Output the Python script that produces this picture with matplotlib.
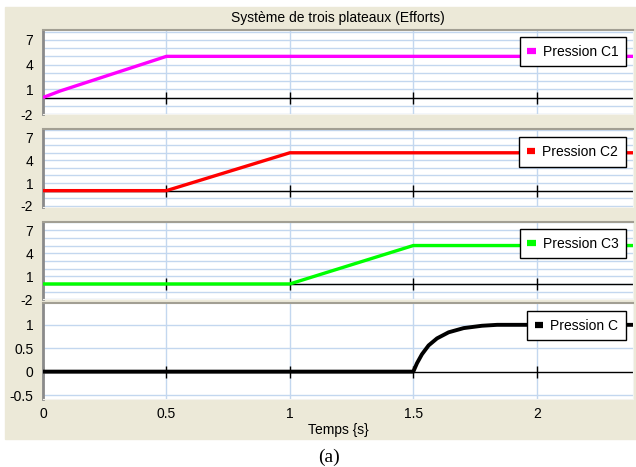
"""Systeme de trois plateaux (Efforts): pressures C1, C2, C3 and C over time."""
import matplotlib

matplotlib.use("Agg")
import matplotlib.pyplot as plt
from matplotlib.lines import Line2D
from matplotlib.patches import Rectangle

plt.rcParams["font.family"] = ["Liberation Sans", "DejaVu Sans"]

# values
t_c1 = [0, 0.07, 0.5, 2.39]
p_c1 = [0, 0.8, 5, 5]
t_c2 = [0, 0.5, 1.0, 2.39]
p_c2 = [0, 0, 5, 5]
t_c3 = [0, 1.0, 1.5, 2.39]
p_c3 = [0, 0, 5, 5]
t_c = [0, 1.5, 1.515, 1.535, 1.562, 1.596, 1.643, 1.704, 1.778, 1.84,
       1.95, 2.39]
p_c = [0, 0, 0.18, 0.37, 0.56, 0.71, 0.84, 0.93, 0.98, 1.0, 1.0, 1.0]

x_ticks = [0, 0.5, 1, 1.5, 2]
x_labels = ["0", "0.5", "1", "1.5", "2"]
y_ticks_p = [-2, 1, 4, 7]
y_grid_p = list(range(-2, 9))
y_ticks_c = [-0.5, 0, 0.5, 1]
y_grid_c = [-0.5, 0.5, 1.0, 1.5]

names = ["Pression C1", "Pression C2", "Pression C3", "Pression C"]
colors = ["#FF00FF", "#FF0000", "#00FF00", "#000000"]

BEIGE = "#ECE9D8"
GRID = "#C3D7EF"
W, H = 636, 467

fig = plt.figure(figsize=(W / 100, H / 100), dpi=100)
fig.patches.append(Rectangle((5 / W, 1 - 439 / H), (W - 5) / W, 432 / H,
                             transform=fig.transFigure, color=BEIGE,
                             zorder=-10))

# (top, bottom) in pixels, ylim, legend top in axes fraction
panels = [
    ((30, 114), (-2.0, 8.2), 0.915),
    ((129.3, 207.3), (-2.2, 8.1), 0.895),
    ((221.7, 299.3), (-2.0, 8.1), 0.905),
    ((303.3, 399), (-0.585, 1.46), 0.92),
]
series = [(t_c1, p_c1), (t_c2, p_c2), (t_c3, p_c3), (t_c, p_c)]

x0, x1 = 43, 633
for i, ((top, bot), ylim, leg_y) in enumerate(panels):
    ax = fig.add_axes([x0 / W, 1 - bot / H, (x1 - x0) / W, (bot - top) / H])
    ax.set_facecolor("white")
    ax.set_xlim(0, 2.39)
    ax.set_ylim(*ylim)

    grid_y = y_grid_c if i == 3 else y_grid_p
    for g in grid_y:
        ax.axhline(g, color=GRID, lw=1, zorder=1)
    for g in x_ticks[1:]:
        ax.axvline(g, color=GRID, lw=1, zorder=1)

    ax.axhline(0, color="black", lw=1, zorder=2)
    ax.plot(x_ticks, [0] * len(x_ticks), ls="", marker="|", ms=8, mew=1,
            color="black", zorder=2)

    t, p = series[i]
    ax.plot(t, p, color=colors[i], lw=2.8 if i == 3 else 2.4, zorder=3,
            solid_capstyle="butt", solid_joinstyle="round")

    if i == 3:
        ax.set_yticks(y_ticks_c, ["-0.5", "0", "0.5", "1"])
        ax.set_xticks(x_ticks, x_labels)
        ax.set_xlabel("Temps {s}", fontsize=10, labelpad=1)
    else:
        ax.set_yticks(y_ticks_p, [str(v) for v in y_ticks_p])
        ax.set_xticks(x_ticks, [])
    ax.tick_params(length=0, labelsize=10, pad=7)
    ax.tick_params(axis="x", pad=6)

    ax.spines["left"].set_color("#8A8A8A")
    ax.spines["left"].set_linewidth(2)
    ax.spines["top"].set_color("#A29F93")
    ax.spines["top"].set_linewidth(1.5)
    ax.spines["right"].set_color("#F4F3EE")
    ax.spines["bottom"].set_color("#F4F3EE")

    handle = Line2D([], [], color=colors[i], lw=4.5, solid_capstyle="butt")
    leg = ax.legend([handle], [names[i]], loc="upper right",
                    bbox_to_anchor=(0.988, leg_y), fontsize=10,
                    frameon=True, fancybox=False, framealpha=1,
                    edgecolor="black", handlelength=0.6, handletextpad=0.5,
                    borderpad=0.55, borderaxespad=0)
    leg.get_frame().set_linewidth(1)
    leg.set_zorder(5)

fig.text(338 / W, 1 - 18 / H, "Système de trois plateaux (Efforts)",
         ha="center", va="center", fontsize=10)
fig.text(329 / W, 1 - 457 / H, "(a)", ha="center", va="center", fontsize=14,
         family=["Liberation Serif", "DejaVu Serif"])

fig.savefig("out.png", dpi=100)
